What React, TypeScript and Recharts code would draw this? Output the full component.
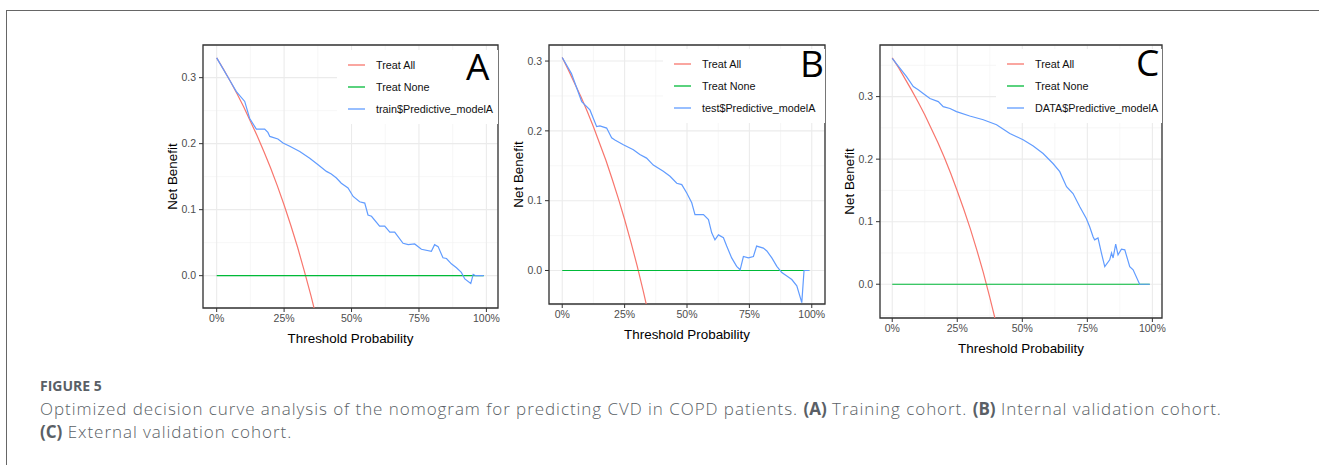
import React from "react";
import {
  LineChart,
  Line,
  XAxis,
  YAxis,
  CartesianGrid,
  Legend,
  ReferenceArea,
} from "recharts";

// shared axes
const xTicks = [0, 0.25, 0.5, 0.75, 1];
const xMinor = [0.125, 0.375, 0.625, 0.875];
const yTicks = [0, 0.1, 0.2, 0.3];
const yMinor = [-0.05, 0.05, 0.15, 0.25, 0.35];

// treat all (same thresholds for every panel)
const allThr = [0, 0.025, 0.05, 0.075, 0.1, 0.125, 0.15, 0.175, 0.2, 0.225, 0.25, 0.275, 0.3, 0.325, 0.35, 0.375, 0.4];
const allNbA = [0.33, 0.313, 0.295, 0.276, 0.256, 0.234, 0.212, 0.188, 0.163, 0.136, 0.107, 0.076, 0.043, 0.007, -0.031, -0.072, -0.117];
const allNbB = [0.305, 0.287, 0.268, 0.249, 0.228, 0.206, 0.182, 0.158, 0.131, 0.103, 0.073, 0.041, 0.007, -0.03, -0.069, -0.112, -0.158];
const allNbC = [0.362, 0.346, 0.328, 0.31, 0.291, 0.271, 0.249, 0.227, 0.203, 0.177, 0.149, 0.12, 0.089, 0.055, 0.019, -0.021, -0.063];

// treat none
const noneThr = [0, 0.99];
const noneNb = [0, 0];

// model curves
const modelThrA = [0, 0.05, 0.073, 0.104, 0.122, 0.147, 0.178, 0.19, 0.197, 0.227, 0.246, 0.271, 0.308, 0.345, 0.376, 0.407, 0.425, 0.444, 0.462, 0.487, 0.506, 0.53, 0.549, 0.561, 0.574, 0.604, 0.623, 0.642, 0.66, 0.691, 0.71, 0.734, 0.759, 0.796, 0.808, 0.821, 0.839, 0.852, 0.87, 0.889, 0.907, 0.92, 0.942, 0.951, 0.96, 0.99];
const modelNbA = [0.33, 0.295, 0.279, 0.264, 0.2385, 0.222, 0.222, 0.217, 0.211, 0.207, 0.201, 0.196, 0.188, 0.178, 0.168, 0.158, 0.154, 0.148, 0.14, 0.133, 0.12, 0.112, 0.11, 0.092, 0.09, 0.075, 0.075, 0.066, 0.066, 0.049, 0.047, 0.048, 0.04, 0.037, 0.047, 0.044, 0.027, 0.026, 0.018, 0.012, 0.005, -0.005, -0.012, 0.002, 0, 0];

const modelThrB = [0, 0.037, 0.078, 0.111, 0.138, 0.151, 0.178, 0.198, 0.211, 0.245, 0.285, 0.311, 0.338, 0.365, 0.405, 0.432, 0.459, 0.479, 0.499, 0.519, 0.532, 0.545, 0.566, 0.586, 0.599, 0.612, 0.626, 0.646, 0.659, 0.679, 0.699, 0.713, 0.726, 0.746, 0.766, 0.779, 0.806, 0.82, 0.84, 0.86, 0.88, 0.9, 0.92, 0.94, 0.96, 0.969, 0.99];
const modelNbB = [0.305, 0.282, 0.242, 0.23, 0.206, 0.207, 0.204, 0.19, 0.187, 0.18, 0.173, 0.166, 0.161, 0.151, 0.142, 0.135, 0.125, 0.123, 0.111, 0.097, 0.08, 0.08, 0.08, 0.073, 0.054, 0.044, 0.051, 0.047, 0.035, 0.018, 0.006, 0.001, 0.02, 0.018, 0.02, 0.035, 0.032, 0.028, 0.018, 0.006, -0.003, -0.008, -0.013, -0.022, -0.046, 0, 0];

const modelThrC = [0, 0.055, 0.081, 0.1, 0.119, 0.145, 0.177, 0.196, 0.222, 0.247, 0.298, 0.35, 0.401, 0.452, 0.503, 0.542, 0.58, 0.618, 0.644, 0.67, 0.695, 0.721, 0.746, 0.759, 0.772, 0.778, 0.791, 0.804, 0.817, 0.836, 0.843, 0.849, 0.859, 0.868, 0.881, 0.894, 0.913, 0.926, 0.951, 0.99];
const modelNbC = [0.361, 0.332, 0.316, 0.311, 0.305, 0.297, 0.292, 0.284, 0.281, 0.276, 0.269, 0.263, 0.255, 0.241, 0.231, 0.221, 0.209, 0.193, 0.18, 0.156, 0.145, 0.124, 0.105, 0.092, 0.076, 0.071, 0.074, 0.05, 0.028, 0.039, 0.05, 0.042, 0.064, 0.047, 0.056, 0.055, 0.028, 0.023, 0, 0];

const zip = (xs: number[], ys: number[]) => xs.map((x, i) => ({ x, y: ys[i] }));

const RED = "#F8766D";
const GREEN = "#00BA38";
const BLUE = "#619CFF";
const FONT = "'Liberation Sans', Arial, sans-serif";

const panels = [
  {
    key: "A",
    model: "train$Predictive_modelA",
    all: allNbA,
    thr: modelThrA,
    nb: modelNbA,
    left: 150,
    width: 358,
    height: 308,
    xDomain: [-0.0507, 1.043],
    yDomain: [-0.049, 0.3495],
    legend: { left: 187, top: 10, width: 161 },
    letter: { left: 466, top: 47 },
  },
  {
    key: "B",
    model: "test$Predictive_modelA",
    all: allNbB,
    thr: modelThrB,
    nb: modelNbB,
    left: 496,
    width: 339,
    height: 304,
    xDomain: [-0.053, 1.053],
    yDomain: [-0.048, 0.323],
    legend: { left: 167, top: 9, width: 162 },
    letter: { left: 800, top: 44 },
  },
  {
    key: "C",
    model: "DATA$Predictive_modelA",
    all: allNbC,
    thr: modelThrC,
    nb: modelNbC,
    left: 827,
    width: 345,
    height: 318,
    xDomain: [-0.047, 1.037],
    yDomain: [-0.054, 0.3825],
    legend: { left: 169, top: 9, width: 166 },
    letter: { left: 1136, top: 43 },
  },
];

const LegendBox = ({ payload, order }: any) => {
  const items = [...(payload || [])].sort(
    (a: any, b: any) => order.indexOf(a.value) - order.indexOf(b.value)
  );
  return (
    <div style={{ background: "#fff", padding: "4px 0 4px 11px", fontFamily: FONT }}>
      {items.map((e: any) => (
        <div key={e.value} style={{ display: "flex", alignItems: "center", height: 22 }}>
          <svg width={17} height={4}>
            <line x1={0} y1={2} x2={17} y2={2} stroke={e.color} strokeWidth={1.3} />
          </svg>
          <span style={{ marginLeft: 11, fontSize: 10.8, color: "#111" }}>{e.value}</span>
        </div>
      ))}
    </div>
  );
};

const Panel = ({ p }: any) => (
  <div style={{ position: "absolute", left: p.left, top: 40 }}>
    <LineChart
      width={p.width}
      height={p.height}
      margin={{ top: 5, right: 10, bottom: 0, left: 0 }}
      style={{ fontFamily: FONT }}
    >
      <CartesianGrid
        stroke="#f3f3f3"
        strokeWidth={0.7}
        verticalValues={xMinor}
        horizontalValues={yMinor}
      />
      <CartesianGrid stroke="#ebebeb" strokeWidth={1.1} />
      <XAxis
        type="number"
        dataKey="x"
        domain={p.xDomain}
        ticks={xTicks}
        allowDataOverflow
        height={40}
        tickSize={4}
        tickMargin={3}
        axisLine={false}
        tickLine={{ stroke: "#333" }}
        tick={{ fill: "#4d4d4d", fontSize: 10.5 }}
        tickFormatter={(v: number) => `${Math.round(v * 100)}%`}
        label={{ value: "Threshold Probability", position: "insideBottom", offset: 5, fill: "#000", fontSize: 13.4 }}
      />
      <YAxis
        type="number"
        domain={p.yDomain}
        ticks={yTicks}
        allowDataOverflow
        width={53}
        tickSize={4}
        tickMargin={3}
        axisLine={false}
        tickLine={{ stroke: "#333" }}
        tick={{ fill: "#4d4d4d", fontSize: 10.5 }}
        tickFormatter={(v: number) => v.toFixed(1)}
        label={{ value: "Net Benefit", angle: -90, position: "insideLeft", offset: 22, fill: "#000", fontSize: 13.4, style: { textAnchor: "middle" } }}
      />
      <Line
        data={zip(allThr, p.all)}
        dataKey="y"
        name="Treat All"
        stroke={RED}
        strokeWidth={1.2}
        dot={false}
        isAnimationActive={false}
      />
      <Line
        data={zip(noneThr, noneNb)}
        dataKey="y"
        name="Treat None"
        stroke={GREEN}
        strokeWidth={1.2}
        dot={false}
        isAnimationActive={false}
      />
      <Line
        data={zip(p.thr, p.nb)}
        dataKey="y"
        name={p.model}
        stroke={BLUE}
        strokeWidth={1.2}
        dot={false}
        isAnimationActive={false}
      />
      <ReferenceArea
        x1={p.xDomain[0]}
        x2={p.xDomain[1]}
        y1={p.yDomain[0]}
        y2={p.yDomain[1]}
        fill="none"
        stroke="#333"
        strokeWidth={1.3}
        ifOverflow="visible"
      />
      <Legend
        layout="vertical"
        align="center"
        verticalAlign="middle"
        content={<LegendBox order={["Treat All", "Treat None", p.model]} />}
        wrapperStyle={{ left: p.legend.left, top: p.legend.top, width: p.legend.width, bottom: "auto", right: "auto" }}
      />
    </LineChart>
  </div>
);

export default function App() {
  return (
    <div style={{ position: "absolute", left: 0, top: 0, width: 1319, height: 465, background: "#fff", overflow: "hidden" }}>
      <div style={{ position: "absolute", left: 6, top: 10, width: 1320, height: 470, borderTop: "1px solid #666", borderLeft: "1px solid #666" }} />
      {panels.map((p) => (
        <Panel key={p.key} p={p} />
      ))}
      {panels.map((p) => (
        <div
          key={"l" + p.key}
          style={{ position: "absolute", left: p.letter.left, top: p.letter.top, fontFamily: "'Open Sans', sans-serif", fontSize: 37, fontWeight: 500, lineHeight: 1, color: "#000" }}
        >
          {p.key}
        </div>
      ))}
      <div style={{ position: "absolute", left: 40, top: 376, fontFamily: "'Open Sans', sans-serif", color: "#5a5f66" }}>
        <div style={{ fontSize: 14, fontWeight: 700, lineHeight: "19px" }}>FIGURE 5</div>
        <div style={{ fontSize: 17, fontWeight: 300, letterSpacing: 0.95, lineHeight: "23px", marginTop: 2, whiteSpace: "nowrap" }}>
          Optimized decision curve analysis of the nomogram for predicting CVD in COPD patients. <b style={{ fontWeight: 700, letterSpacing: 0 }}>(A)</b> Training cohort. <b style={{ fontWeight: 700, letterSpacing: 0 }}>(B)</b> Internal validation cohort.
          <br />
          <b style={{ fontWeight: 700, letterSpacing: 0 }}>(C)</b> External validation cohort.
        </div>
      </div>
    </div>
  );
}
